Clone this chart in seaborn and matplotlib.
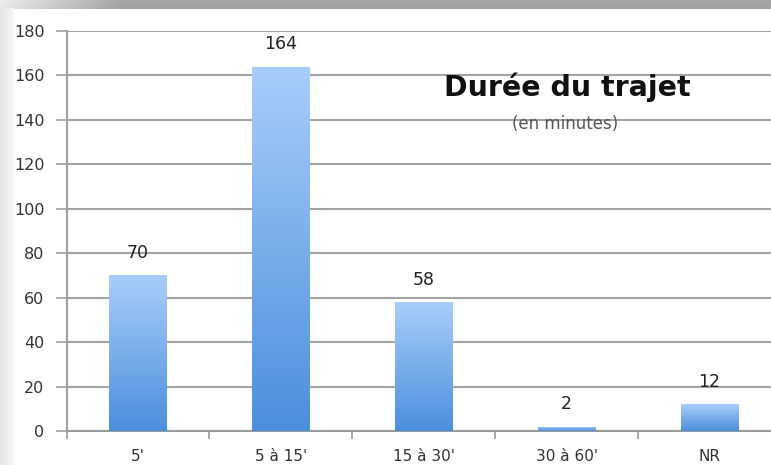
import numpy as np
import pandas as pd
import matplotlib
matplotlib.use("Agg")
import matplotlib.pyplot as plt
import seaborn as sns
from matplotlib.colors import LinearSegmentedColormap

# data
categories = ["5'", "5 à 15'", "15 à 30'", "30 à 60'", "NR"]
counts = [70, 164, 58, 2, 12]
y_ticks = [0, 20, 40, 60, 80, 100, 120, 140, 160, 180]

sns.set_theme(style="white")
plt.rcParams["font.family"] = ["DejaVu Sans"]

W, H = 771, 465
fig = plt.figure(figsize=(W / 100, H / 100), dpi=100)
fig.patch.set_facecolor("white")

# screenshot frame: grey band on top, light shadow on the left
bg = fig.add_axes([0, 0, 1, 1], zorder=-10)
bg.set_xlim(0, W)
bg.set_ylim(H, 0)
bg.axis("off")
top = np.ones((9, W, 3))
ramp = np.clip(np.linspace(0, 1, W) / 0.16, 0, 1)
shade = 0.93 - 0.28 * ramp
for r in range(9):
    top[r, :, :] = (shade - 0.02 * (r / 8))[:, None]
bg.imshow(top, extent=[0, W, 9, 0], aspect="auto", interpolation="bilinear")
left = np.ones((H, 14, 3))
left[:, :, :] = np.linspace(0.90, 0.97, 14)[None, :, None]
bg.imshow(left, extent=[0, 14, H, 9], aspect="auto", interpolation="bilinear")

ax = fig.add_axes([66.6 / W, 34 / H, 714.4 / W, 400 / H])
df = pd.DataFrame({"cat": categories, "n": counts})
sns.barplot(data=df, x="cat", y="n", width=0.4, ax=ax, color="#4f94dc", zorder=3)

cmap = LinearSegmentedColormap.from_list("bar", ["#4b8fdb", "#a9cdfb"])
grad = np.linspace(0, 1, 256).reshape(-1, 1)
for p in ax.patches:
    x0, y0 = p.get_x(), p.get_y()
    w, h = p.get_width(), p.get_height()
    p.set_facecolor("none")
    p.set_edgecolor("none")
    img = ax.imshow(grad, cmap=cmap, origin="lower", aspect="auto",
                    extent=[x0, x0 + w, y0, y0 + h], zorder=3)
    img.set_clip_path(p)

for i, v in enumerate(counts):
    ax.text(i, v + 10, str(v), ha="center", va="center", fontsize=12.5,
            color="#222222", zorder=4)

ax.set_xlim(-0.5, len(categories) - 0.5)
ax.set_ylim(0, 180)
ax.set_yticks(y_ticks)
ax.set_yticklabels([str(t) for t in y_ticks], fontsize=11.5, color="#333333")
ax.set_xticks(range(len(categories)))
ax.set_xticklabels(categories, fontsize=11, color="#333333")
ax.set_xticks(np.arange(-0.5, len(categories)), minor=True)
ax.tick_params(axis="x", which="major", length=0, pad=13)
ax.tick_params(axis="x", which="minor", length=6, width=1.2, color="#9a9a9a",
               direction="out", bottom=True)
ax.tick_params(axis="y", length=8, width=1.2, color="#a0a0a0", pad=8, left=True)
ax.set_xlabel("")
ax.set_ylabel("")
ax.yaxis.grid(True, color="#a3a3a3", linewidth=1.5, zorder=1)
ax.set_axisbelow(True)
for s in ["top", "right"]:
    ax.spines[s].set_visible(False)
ax.spines["left"].set_color("#a0a0a0")
ax.spines["left"].set_linewidth(1.5)
ax.spines["bottom"].set_color("#9a9a9a")
ax.spines["bottom"].set_linewidth(1.5)
ax.set_facecolor("none")
ax.patch.set_alpha(0)

fig.text(567 / W, 1 - 87 / H, "Durée du trajet", ha="center", va="center",
         fontsize=20.5, fontweight="bold", color="#111111")
fig.text(565 / W, 1 - 124 / H, "(en minutes)", ha="center", va="center",
         fontsize=12, color="#555555")

fig.savefig("out.png", dpi=100)
